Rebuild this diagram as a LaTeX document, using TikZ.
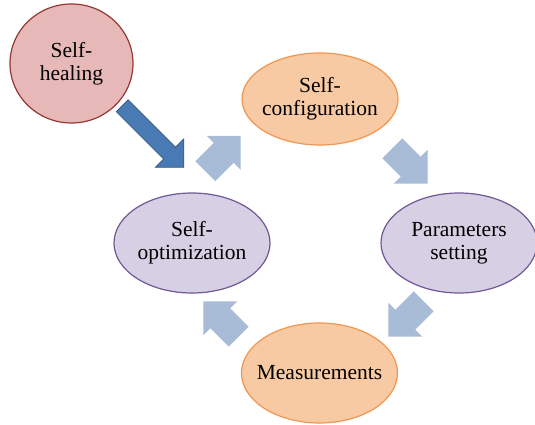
\documentclass[tikz,border=0pt]{standalone}
\usepackage{fontspec}
\setmainfont{Liberation Serif}
\usepackage{tikz}
\usetikzlibrary{shapes.geometric, positioning}
\definecolor{healfill}{RGB}{230,185,184}
\definecolor{healdraw}{RGB}{149,55,53}
\definecolor{orangefill}{RGB}{248,202,163}
\definecolor{orangedraw}{RGB}{240,150,80}
\definecolor{lilacfill}{RGB}{215,208,228}
\definecolor{lilacdraw}{RGB}{112,88,150}
\definecolor{paleblue}{RGB}{168,187,215}
\definecolor{deepblue}{RGB}{74,122,180}
\definecolor{deepblueline}{RGB}{56,93,138}
\tikzstyle{stage}=[ellipse, draw, line width=1.2pt, align=center, inner xsep=-60pt, inner ysep=0pt, font=\fontsize{21.5}{23}\selectfont]
\tikzstyle{heal}=[stage, draw=healdraw, fill=healfill, minimum width=123pt, minimum height=119pt]
\tikzstyle{orangestage}=[stage, draw=orangedraw, fill=orangefill, minimum width=156pt, minimum height=92pt]
\tikzstyle{lilacstage}=[stage, draw=lilacdraw, fill=lilacfill, minimum width=156pt, minimum height=100pt]
\tikzset{
  cyclearrow/.pic={\fill[paleblue] (-25,-14) -- (1,-14) -- (1,-24) -- (25,0) -- (1,24) -- (1,14) -- (-25,14) -- cycle;},
  healarrow/.pic={\filldraw[fill=deepblue, draw=deepblueline, line width=0.8pt] (-43.5,-8.3) -- (23.5,-8.3) -- (23.5,-20) -- (43.5,0) -- (23.5,20) -- (23.5,8.3) -- (-43.5,8.3) -- cycle;}
}
\begin{document}
\begin{tikzpicture}[x=1pt, y=-1pt]
		\useasboundingbox (0,0) rectangle (535,425);
		\node(healing)[heal] at (71.5,63.5){Self-\\healing};
		\node(config)[orangestage] at (320,99){Self-\\configuration};
		\node(params)[lilacstage] at (459,243){Parameters\\setting};
		\node(measure)[orangestage, minimum height=100pt] at (319.5,373){Measurements};
		\node(optim)[lilacstage] at (192,243){Self-\\optimization};
		
		\pic[rotate=-45] at (153,136.5){healarrow};
		\pic[rotate=45] at (223,153.5){cyclearrow};
		\pic[rotate=-45] at (410,166){cyclearrow};
		\pic[rotate=-135] at (406,319){cyclearrow};
		\pic[rotate=135] at (221,319){cyclearrow};
	\end{tikzpicture}
\end{document}
